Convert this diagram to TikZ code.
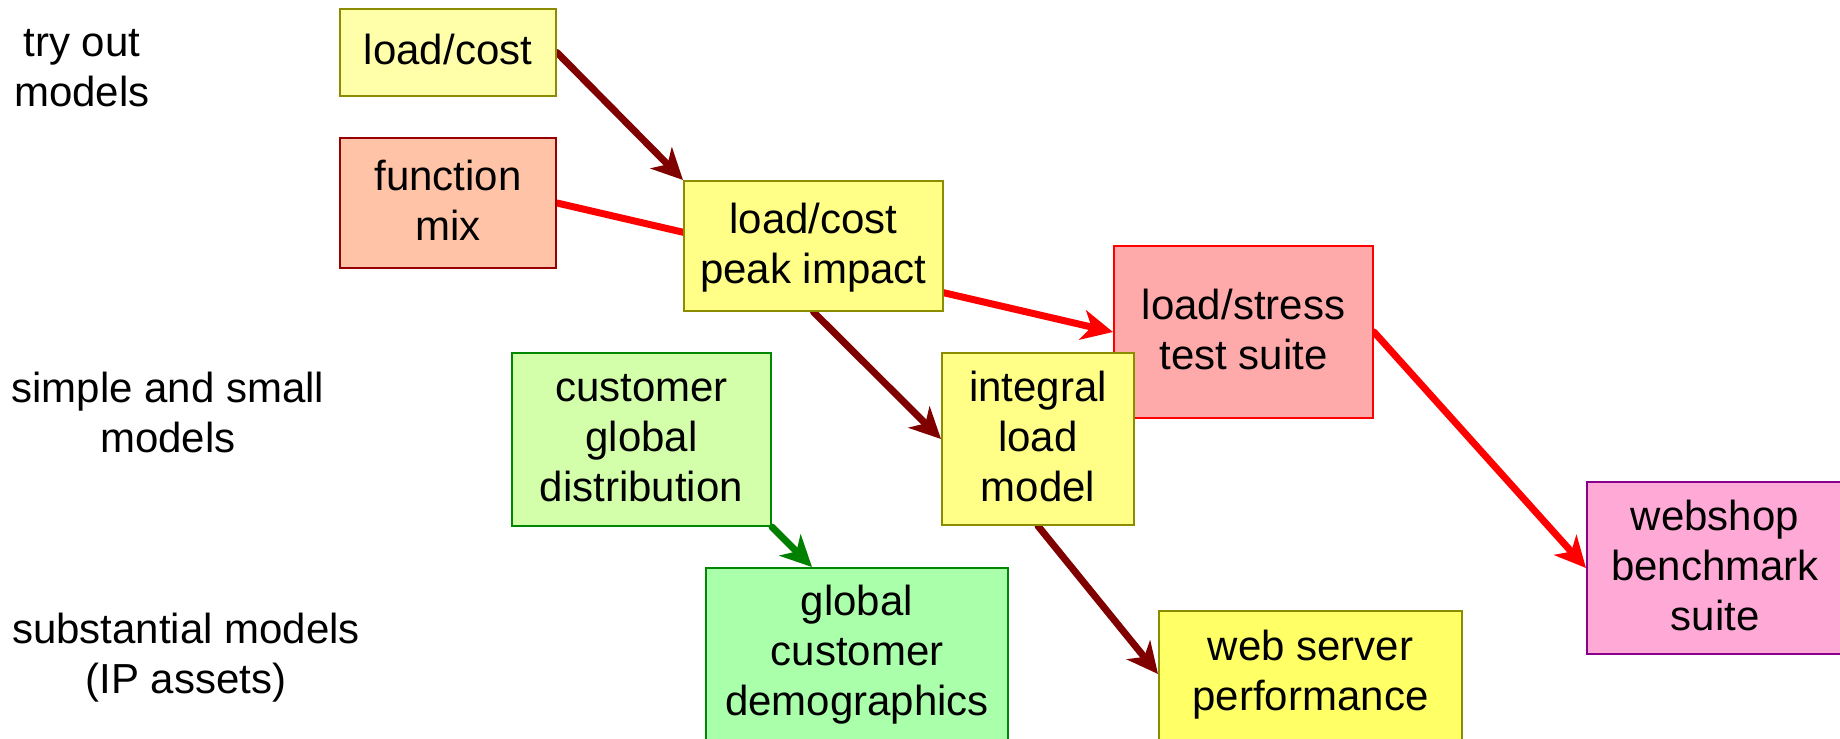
\documentclass[tikz,border=0pt]{standalone}
\usepackage{fontspec}
\setmainfont{Liberation Sans}
\usetikzlibrary{arrows.meta,backgrounds}
\definecolor{olivebd}{HTML}{8C8C00}
\definecolor{ylpale}{HTML}{FFFFAA}
\definecolor{ylmid}{HTML}{FFFF88}
\definecolor{ylstrong}{HTML}{FFFF66}
\definecolor{peach}{HTML}{FFC4A8}
\definecolor{darkredc}{HTML}{800000}
\definecolor{fmbd}{HTML}{990000}
\definecolor{lime}{HTML}{D4FFAA}
\definecolor{mint}{HTML}{AAFFAA}
\definecolor{greenbd}{HTML}{008800}
\definecolor{greenarr}{HTML}{008000}
\definecolor{rose}{HTML}{FFAAAA}
\definecolor{pinkc}{HTML}{FFAAD6}
\definecolor{purplebd}{HTML}{8B008B}
\newcommand{\bs}{\rule[-13pt]{0pt}{50pt}}
\begin{document}
\begin{tikzpicture}[x=1pt,y=-1pt,
  box/.style={draw, line width=2pt, inner sep=0pt, align=center,
    font=\fontsize{42}{50}\selectfont},
  lbl/.style={inner sep=0pt, align=center, anchor=north,
    font=\fontsize{42}{50}\selectfont},
  conn/.style={line width=7pt, line cap=round,
    -{Stealth[length=31pt,width=30pt,inset=9pt]}}]
\useasboundingbox (0,0) rectangle (1840,739);
% side labels
\node[lbl] (t1) at (82,19.7) {\bs try out\\\bs models};
\node[lbl] (t2) at (168,365.7) {\bs simple and small\\\bs models};
\node[lbl] (t3) at (186,606) {\bs substantial models\\\bs (IP assets)};
% boxes
\node[box, fill=ylpale, draw=olivebd, minimum width=216pt, minimum height=87pt] (lc) at (448,52.5) {\bs load/cost};
\node[box, fill=peach, draw=fmbd, minimum width=216pt, minimum height=130pt] (fm) at (448,203) {\bs function\\\bs mix};
\node[box, fill=ylmid, draw=olivebd, minimum width=259pt, minimum height=130pt] (pk) at (813.5,246) {\bs load/cost\\\bs peak impact};
\node[box, fill=lime, draw=greenbd, minimum width=259pt, minimum height=173pt] (cg) at (641.5,439.5) {\bs customer\\\bs global\\\bs distribution};
\node[box, fill=rose, draw=red, minimum width=259pt, minimum height=172pt] (ls) at (1243.5,332) {\bs load/stress\\\bs test suite};
\node[box, fill=ylmid, draw=olivebd, minimum width=192pt, minimum height=172pt] (il) at (1038,439) {\bs integral\\\bs load\\\bs model};
\node[box, fill=mint, draw=greenbd, minimum width=302pt, minimum height=220pt] (gd) at (857,678) {\bs global\\\bs customer\\\bs demographics\\\bs};
\node[box, fill=ylstrong, draw=olivebd, minimum width=303pt, minimum height=174pt] (ws) at (1310.5,698) {\bs web server\\\bs performance\\\bs};
\node[box, fill=pinkc, draw=purplebd, minimum width=256pt, minimum height=172pt] (wb) at (1715,568) {\bs webshop\\\bs benchmark\\\bs suite};
% connectors
\begin{scope}[on background layer]
\fill[white] (0,0) rectangle (1840,739);
\draw[conn, darkredc] (lc.east) -- (pk.north west);
\draw[conn, red] (fm.east) -- (ls.west);
\draw[conn, darkredc] (pk.south) -- (il.west);
\draw[conn, greenarr] (cg.south east) -- ([xshift=107pt]gd.north west);
\draw[conn, darkredc] (il.south) -- ([yshift=-64pt]ws.north west);
\draw[conn, red] (ls.east) -- (wb.west);
\end{scope}
\end{tikzpicture}
\end{document}
